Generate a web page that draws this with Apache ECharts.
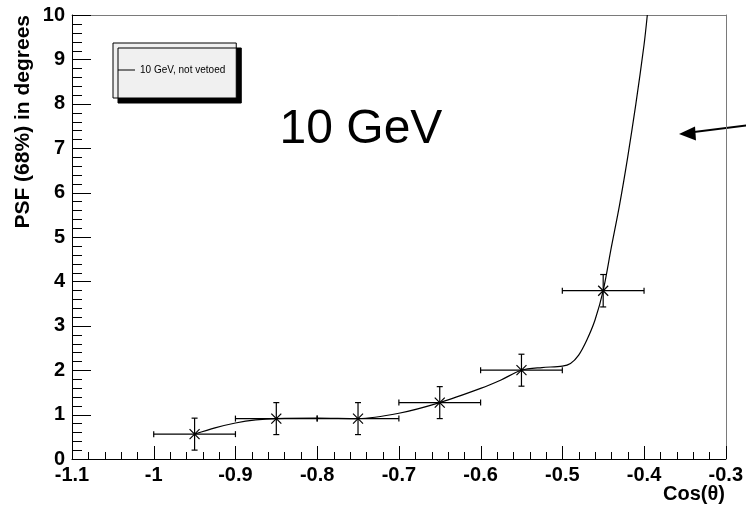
<!DOCTYPE html>
<html>
<head>
<meta charset="utf-8">
<script src="https://cdn.jsdelivr.net/npm/echarts@6/dist/echarts.min.js"></script>
<style>
  html, body { margin: 0; padding: 0; background: #fff; }
  #chart { width: 746px; height: 507px; }
</style>
</head>
<body>
<div id="chart"></div>
<script>
// measured points (bin centre, half bin width, PSF, error)
const binCenters = [-0.95, -0.85, -0.75, -0.65, -0.55, -0.45]
const binHalfWidths = [0.05, 0.05, 0.05, 0.05, 0.05, 0.05]
const psfValues = [0.56, 0.91, 0.91, 1.27, 2.0, 3.79]
const psfErrors = [0.36, 0.36, 0.36, 0.36, 0.36, 0.365]

// smooth curve
const curveX = [-0.95, -0.925, -0.9, -0.875, -0.85, -0.8, -0.75, -0.7, -0.65, -0.6, -0.575, -0.55,
  -0.525, -0.5, -0.49, -0.48, -0.47, -0.46, -0.45, -0.44, -0.43, -0.42, -0.41, -0.4, -0.396]
const curveY = [0.56, 0.70, 0.81, 0.88, 0.91, 0.92, 0.91, 1.03, 1.27, 1.59, 1.78, 2.0,
  2.06, 2.09, 2.15, 2.34, 2.68, 3.13, 3.79, 4.77, 5.72, 6.8, 8.0, 9.33, 10.0]

// major ticks
const xMajorTicks = [-1.1, -1.0, -0.9, -0.8, -0.7, -0.6, -0.5, -0.4, -0.3]
const yMajorTicks = [0, 1, 2, 3, 4, 5, 6, 7, 8, 9, 10]
const minorDivisions = 5

const legendLabel = '10 GeV, not vetoed'
const energyLabel = '10 GeV'
const xTitle = 'Cos(θ)'
const yTitle = 'PSF (68%) in degrees'

const font = '"Liberation Sans", Arial, Helvetica, sans-serif'

const chart = echarts.init(document.getElementById('chart'), null, { renderer: 'canvas' })

// tick list: [value, axis (0 = x, 1 = y), major (1) or minor (0)]
function tickList(majors, axis) {
  const out = []
  majors.forEach((v, i) => {
    out.push([v, axis, 1])
    if (i < majors.length - 1) {
      const step = (majors[i + 1] - v) / minorDivisions
      for (let k = 1; k < minorDivisions; k++) out.push([v + k * step, axis, 0])
    }
  })
  return out
}
const tickData = tickList(xMajorTicks, 0).concat(tickList(yMajorTicks, 1))

function renderTick(params, api) {
  const v = api.value(0)
  const axis = api.value(1)
  const major = api.value(2) === 1
  const style = { stroke: '#000', lineWidth: 1 }
  if (axis === 0) {
    const p = api.coord([v, yMajorTicks[0]])
    const x = Math.round(p[0]) + 0.5
    const len = major ? 13 : 7
    return { type: 'line', shape: { x1: x, y1: p[1], x2: x, y2: p[1] - len }, style }
  }
  const p = api.coord([xMajorTicks[0], v])
  const y = Math.round(p[1]) + 0.5
  const len = major ? 19 : 10
  return { type: 'line', shape: { x1: p[0], y1: y, x2: p[0] + len, y2: y }, style }
}

function renderErrorPoint(params, api) {
  const x = api.value(0)
  const y = api.value(1)
  const dx = api.value(2)
  const dy = api.value(3)
  const c = api.coord([x, y])
  const left = api.coord([x - dx, y])
  const right = api.coord([x + dx, y])
  const top = api.coord([x, y + dy])
  const bottom = api.coord([x, y - dy])
  const cap = 3
  const m = 5
  const style = { stroke: '#000', lineWidth: 1.2 }
  const line = (x1, y1, x2, y2) => ({ type: 'line', shape: { x1, y1, x2, y2 }, style })
  return {
    type: 'group',
    children: [
      line(left[0], c[1], right[0], c[1]),
      line(left[0], c[1] - cap, left[0], c[1] + cap),
      line(right[0], c[1] - cap, right[0], c[1] + cap),
      line(c[0], top[1], c[0], bottom[1]),
      line(c[0] - cap, top[1], c[0] + cap, top[1]),
      line(c[0] - cap, bottom[1], c[0] + cap, bottom[1]),
      line(c[0] - m, c[1] - m, c[0] + m, c[1] + m),
      line(c[0] - m, c[1] + m, c[0] + m, c[1] - m)
    ]
  }
}

const frameAxis = {
  type: 'value',
  axisLine: { show: true, onZero: false, lineStyle: { color: '#7a7a7a', width: 1 } },
  axisTick: { show: false },
  axisLabel: { show: false },
  splitLine: { show: false }
}

chart.setOption({
  animation: false,
  textStyle: { fontFamily: font },
  grid: { left: 72, right: 20, top: 15, bottom: 48 },
  legend: {
    left: 113, top: 43,
    orient: 'vertical',
    data: [{ name: legendLabel, icon: 'rect' }],
    itemWidth: 17, itemHeight: 1, itemGap: 0,
    padding: [22, 11, 23, 5],
    backgroundColor: '#f0f0f0',
    borderColor: '#000', borderWidth: 1, borderRadius: 0,
    shadowColor: '#000', shadowBlur: 0, shadowOffsetX: 5, shadowOffsetY: 5,
    selectedMode: false,
    textStyle: { fontSize: 10, color: '#000', fontFamily: font }
  },
  xAxis: [
    {
      type: 'value',
      position: 'bottom',
      min: -1.1, max: -0.3, interval: 0.1,
      axisLine: { show: true, onZero: false, lineStyle: { color: '#000', width: 1 } },
      axisTick: { show: false },
      minorTick: { show: false },
      splitLine: { show: false },
      axisLabel: {
        margin: 6, fontSize: 20, fontWeight: 'bold', color: '#000', fontFamily: font,
        showMinLabel: true, showMaxLabel: true,
        formatter: v => String(+v.toFixed(1))
      }
    },
    Object.assign({ position: 'top', min: -1.1, max: -0.3 }, frameAxis)
  ],
  yAxis: [
    {
      type: 'value',
      position: 'left',
      min: 0, max: 10, interval: 1,
      axisLine: { show: true, onZero: false, lineStyle: { color: '#000', width: 1 } },
      axisTick: { show: false },
      minorTick: { show: false },
      splitLine: { show: false },
      axisLabel: {
        margin: 7, fontSize: 20, fontWeight: 'bold', color: '#000', fontFamily: font,
        showMinLabel: true, showMaxLabel: true
      }
    },
    Object.assign({ position: 'right', min: 0, max: 10 }, frameAxis)
  ],
  graphic: [
    {
      type: 'text', x: 361, y: 130,
      style: { text: energyLabel, font: '48px ' + font, fill: '#000', textAlign: 'center', textVerticalAlign: 'middle' }
    },
    {
      type: 'text', x: 725, y: 494,
      style: { text: xTitle, font: 'bold 20px ' + font, fill: '#000', textAlign: 'right', textVerticalAlign: 'middle' }
    },
    {
      type: 'text', x: 23, y: 15, rotation: Math.PI / 2,
      style: { text: yTitle, font: 'bold 21px ' + font, fill: '#000', textAlign: 'right', textVerticalAlign: 'middle' }
    },
    {
      type: 'polygon',
      shape: { points: [[746, 124.5], [746, 126.5], [690, 133.5], [690, 131.5]] },
      style: { fill: '#000' }
    },
    {
      type: 'polygon',
      shape: { points: [[679, 134], [695, 126.5], [696, 140.5]] },
      style: { fill: '#000' }
    }
  ],
  series: [
    {
      name: 'ticks',
      type: 'custom',
      renderItem: renderTick,
      data: tickData,
      silent: true,
      z: 2
    },
    {
      name: legendLabel,
      type: 'line',
      data: curveX.map((x, i) => [x, curveY[i]]),
      smooth: 0.3,
      showSymbol: false,
      clip: true,
      lineStyle: { color: '#000', width: 1.2 },
      itemStyle: { color: '#000' },
      z: 3
    },
    {
      name: 'points',
      type: 'custom',
      renderItem: renderErrorPoint,
      data: binCenters.map((x, i) => [x, psfValues[i], binHalfWidths[i], psfErrors[i]]),
      z: 4
    }
  ]
})
</script>
</body>
</html>
